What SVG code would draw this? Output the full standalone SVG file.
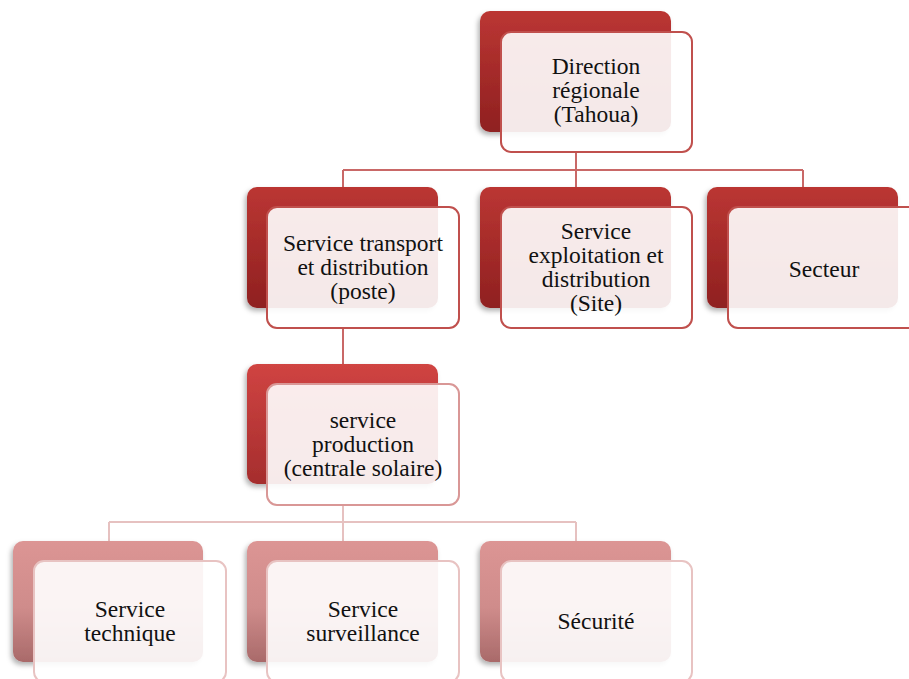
<svg xmlns="http://www.w3.org/2000/svg" width="909" height="679" viewBox="0 0 909 679">
  <defs>
    <linearGradient id="g-dark" x1="0" y1="0" x2="0" y2="1">
      <stop offset="0" stop-color="#bb3633"/>
      <stop offset="1" stop-color="#8f2020"/>
    </linearGradient>
    <linearGradient id="g-mid" x1="0" y1="0" x2="0" y2="1">
      <stop offset="0" stop-color="#d04442"/>
      <stop offset="1" stop-color="#a52d2d"/>
    </linearGradient>
    <linearGradient id="g-light" x1="0" y1="0" x2="0" y2="1">
      <stop offset="0" stop-color="#dc9594"/>
      <stop offset="0.55" stop-color="#cf8c8b"/>
      <stop offset="1" stop-color="#a96a6a"/>
    </linearGradient>
    <filter id="shadow" x="-10%" y="-10%" width="125%" height="130%">
      <feDropShadow dx="-2" dy="3" stdDeviation="2.5" flood-color="#000" flood-opacity="0.3"/>
    </filter>
  </defs>
  <style>
    .back { filter: url(#shadow); }
    .b1 { fill: url(#g-dark); }
    .b3 { fill: url(#g-mid); }
    .b4 { fill: url(#g-light); }
    .front { fill: #ffffff; fill-opacity: 0.9; stroke-width: 2; }
    .f1 { stroke: #c0504d; }
    .f3 { stroke: #d99796; }
    .f4 { stroke: #e8c3c2; }
    .lbl { font-family: "Liberation Serif", "Times New Roman", serif; font-size: 23.5px; fill: #111; text-anchor: middle; }
    .conn { fill: none; stroke-width: 2; }
    .c1 { stroke: #c96867; }
    .c3 { stroke: #e6c1c0; }
  </style>

  <!-- connectors -->
  <g id="connectors">
    <path class="conn c1" d="M576 152 V170 M343 170 H803 M343 170 V188 M576 170 V188 M803 170 V188"/>
    <path class="conn c1" d="M343 328 V365" stroke="#d48c8b"/>
    <path class="conn c3" d="M343 505 V522 M109 522 H576 M109 522 V542 M343 522 V542 M576 522 V542"/>
  </g>

  <!-- level 1 -->
  <g id="node-direction">
    <rect class="back b1" x="480" y="11" width="191" height="121" rx="10"/>
    <rect class="front f1" x="501" y="32" width="191" height="120" rx="10"/>
    <text class="lbl" x="596" y="74">Direction</text>
    <text class="lbl" x="596" y="98">régionale</text>
    <text class="lbl" x="596" y="122">(Tahoua)</text>
  </g>

  <!-- level 2 -->
  <g id="node-transport">
    <rect class="back b1" x="247" y="187" width="191" height="121" rx="10"/>
    <rect class="front f1" x="267" y="207" width="192" height="121" rx="10"/>
    <text class="lbl" x="363" y="251">Service transport</text>
    <text class="lbl" x="363" y="275">et distribution</text>
    <text class="lbl" x="363" y="299">(poste)</text>
  </g>
  <g id="node-exploitation">
    <rect class="back b1" x="480" y="187" width="191" height="121" rx="10"/>
    <rect class="front f1" x="501" y="207" width="191" height="121" rx="10"/>
    <text class="lbl" x="596" y="239">Service</text>
    <text class="lbl" x="596" y="263">exploitation et</text>
    <text class="lbl" x="596" y="287">distribution</text>
    <text class="lbl" x="596" y="311">(Site)</text>
  </g>
  <g id="node-secteur">
    <rect class="back b1" x="707" y="187" width="191" height="121" rx="10"/>
    <rect class="front f1" x="728" y="207" width="192" height="121" rx="10"/>
    <text class="lbl" x="824" y="277">Secteur</text>
  </g>

  <!-- level 3 -->
  <g id="node-production">
    <rect class="back b3" x="247" y="364" width="191" height="120" rx="10"/>
    <rect class="front f3" x="267" y="384" width="192" height="121" rx="10"/>
    <text class="lbl" x="363" y="428">service</text>
    <text class="lbl" x="363" y="452">production</text>
    <text class="lbl" x="363" y="476">(centrale solaire)</text>
  </g>

  <!-- level 4 -->
  <g id="node-technique">
    <rect class="back b4" x="13" y="541" width="190" height="121" rx="10"/>
    <rect class="front f4" x="34" y="561" width="192" height="121" rx="10"/>
    <text class="lbl" x="130" y="617">Service</text>
    <text class="lbl" x="130" y="641">technique</text>
  </g>
  <g id="node-surveillance">
    <rect class="back b4" x="247" y="541" width="191" height="121" rx="10"/>
    <rect class="front f4" x="267" y="561" width="192" height="121" rx="10"/>
    <text class="lbl" x="363" y="617">Service</text>
    <text class="lbl" x="363" y="641">surveillance</text>
  </g>
  <g id="node-securite">
    <rect class="back b4" x="480" y="541" width="191" height="121" rx="10"/>
    <rect class="front f4" x="501" y="561" width="191" height="121" rx="10"/>
    <text class="lbl" x="596" y="629">Sécurité</text>
  </g>
</svg>
